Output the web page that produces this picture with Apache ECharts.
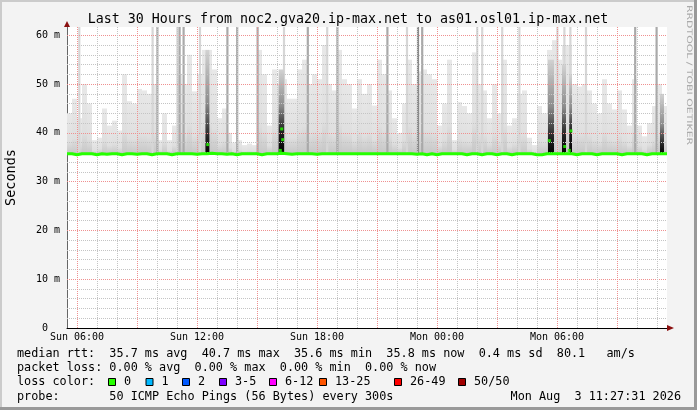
<!DOCTYPE html>
<html><head><meta charset="utf-8">
<script src="https://cdn.jsdelivr.net/npm/echarts@6/dist/echarts.min.js"></script>
<style>html,body{margin:0;padding:0;background:#f3f3f3}#c{width:697px;height:410px}</style>
</head><body><div id="c"></div>
<script>
// ---- data (hours since Sun 00:00, values in ms) ----
const startHour = 5.5;      // first 15-minute bucket starts Sun 05:30
const stepHours = 0.25;     // bucket length
const smokeTop = [
 44, 47, 43, 50, 46, 38.5, 39, 45, 41.5, 42.5,
 40.5, 52, 46.5, 46, 49, 48.7, 48, 50, 38.5, 44,
 38.5, 41.5, 52, 50, 56, 48.5, 52, 57, 57, 53,
 43, 45, 40, 38, 38.5, 37.5, 37.8, 37.5, 57, 52,
 41.5, 53, 50, 51, 47, 47, 53, 55, 50, 52,
 51, 58, 50, 48.7, 57, 51, 50, 45, 51, 48,
 50, 45.6, 55, 52, 48.7, 43, 40, 46, 55, 50,
 52.6, 53, 52, 51, 41.5, 46, 55, 38.5, 46.3, 45.5,
 44, 56.5, 50, 48.7, 43, 50, 44, 55, 41.5, 43,
 48, 48.7, 39, 37.5, 45.5, 44, 57, 59, 55, 58,
 58, 50, 49.5, 50, 48.7, 46, 44, 51, 46, 44.8,
 48.7, 44.8, 41.5, 51, 41.5, 39.3, 42, 45.5, 50, 45.5
];
const medianRtt = [
 35.7,35.5,35.7,35.7,35.7,35.5,35.7,35.6,35.7,35.7,
 35.5,35.7,35.7,35.6,35.7,35.7,35.5,35.7,35.7,35.7,
 35.5,35.7,35.7,35.7,35.7,35.6,35.7,35.7,35.8,35.7,
 35.7,35.6,35.7,35.5,35.7,35.7,35.7,35.7,35.5,35.7,
 35.7,35.7,35.8,35.7,35.6,35.7,35.7,35.7,35.7,35.6,
 35.7,35.7,35.7,35.7,35.7,35.7,35.7,35.7,35.7,35.7,
 35.7,35.7,35.7,35.7,35.7,35.7,35.7,35.7,35.7,35.6,
 35.7,35.5,35.7,35.5,35.7,35.7,35.7,35.7,35.7,35.5,
 35.7,35.7,35.5,35.7,35.7,35.5,35.7,35.7,35.5,35.7,
 35.7,35.7,35.7,35.5,35.5,35.7,35.7,35.7,35.7,35.7,
 35.7,35.5,35.7,35.7,35.7,35.5,35.7,35.7,35.7,35.7,
 35.5,35.7,35.7,35.7,35.7,35.5,35.7,35.7,35.7,35.7
];
// single 5-minute samples whose smoke runs off the top of the chart
const spikeHours = [6.115, 9.78, 10.02, 11.02, 11.13, 11.33, 12.15, 13.52, 14.01, 15.03, 16.35, 17.54, 18.51, 19.02,
                    21.52, 22.5, 23.05, 23.26, 26.01, 26.26, 27.26, 28.12, 30.02, 30.37, 30.67, 31.45, 33.91, 34.98];
const spikeShade = ['L','L','M','L','M','M','L','M','M','M','L','M','L','M',
                    'M','L','D','M','L','L','L','L','L','L','L','L','M','M'];
// dense (dark) smoke columns
const darkHours    = [12.52, 16.22, 29.7, 30.35, 30.68, 35.25];
const darkSpan     = [0.2, 0.28, 0.3, 0.2, 0.14, 0.2];
const darkBlackTop = [39, 40.5, 39, 39.5, 40.5, 37.5];
const darkGrayTop  = [57, 53, 55, 54, 52, 48];
// median samples lifted above the base line
const medianDotHours  = [12.535, 16.165, 16.235, 16.285, 29.615, 30.385, 30.615, 30.7];
const medianDotValues = [37.6, 36.4, 40.8, 38.6, 38.4, 37.2, 36.4, 40.4];
// axes
const xLabelHours = [6, 12, 18, 24, 30];
const xLabelText  = ['Sun 06:00', 'Sun 12:00', 'Sun 18:00', 'Mon 00:00', 'Mon 06:00'];
const xMajorHours = [6, 9, 12, 15, 18, 21, 24, 27, 30, 33];
const xMinorHours = [7, 8, 10, 11, 13, 14, 16, 17, 19, 20, 22, 23, 25, 26, 28, 29, 31, 32, 34, 35];
const yLabelValues = [0, 10, 20, 30, 40, 50, 60];
const yMajorValues = [10, 20, 30, 40, 50, 60];
const yMinorValues = [2, 4, 6, 8, 12, 14, 16, 18, 22, 24, 26, 28, 32, 34, 36, 38, 42, 44, 46, 48, 52, 54, 56, 58];
const lossLabels = ['0', '1', '2', '3-5', '6-12', '13-25', '26-49', '50/50'];
const lossColors = ['#26ff00', '#00b8ff', '#0059ff', '#7e00ff', '#ff00ff', '#ff5500', '#ff0000', '#a10000'];
const statLines = [
 'median rtt:  35.7 ms avg  40.7 ms max  35.6 ms min  35.8 ms now  0.4 ms sd  80.1   am/s',
 'packet loss: 0.00 % avg  0.00 % max  0.00 % min  0.00 % now',
 'loss color:',
 'probe:       50 ICMP Echo Pings (56 Bytes) every 300s'
];
const stampText = 'Mon Aug  3 11:27:31 2026';
const titleText = 'Last 30 Hours from noc2.gva20.ip-max.net to as01.osl01.ip-max.net';

// ---- build ----
const X_MIN = 5.5, X_MAX = 35.5, Y_MAX = 61.7;
const mono = '"DejaVu Sans Mono", monospace';
const smokeData = smokeTop.map((v, i) => [startHour + i * stepHours, startHour + (i + 1) * stepHours, medianRtt[i], v]);
const spikeW = 0.11;
const spikeData = spikeHours.map(h => [h - spikeW / 2, h + spikeW / 2, 35.6, Y_MAX]);
const darkData = darkHours.map((h, i) => [h - darkSpan[i] / 2, h + darkSpan[i] / 2, 35.6, darkGrayTop[i], darkBlackTop[i]]);
const medLine = medianRtt.map((v, i) => [startHour + i * stepHours, v]);
medLine.push([startHour + medianRtt.length * stepHours, medianRtt[medianRtt.length - 1]]);
const dots = medianDotHours.map((h, i) => [h, medianDotValues[i]]);
const shadeColor = {L: '#d6d6d6', M: '#a9a9a9', D: '#8a8a8a'};

function rectOf(api, yTopIdx) {
  const tl = api.coord([api.value(0), api.value(yTopIdx)]);
  const br = api.coord([api.value(1), api.value(2)]);
  return {x: tl[0], y: tl[1], width: br[0] - tl[0], height: br[1] - tl[1]};
}

const chart = echarts.init(document.getElementById('c'), null, {renderer: 'canvas'});
const gridAxisBase = {type: 'value', axisLine: {show: false}, axisLabel: {show: false}, z: 3};
const minorLine = {show: true, lineStyle: {color: '#c4c4c4', width: 1, type: [1, 1]}};
const majorLine = {show: true, lineStyle: {color: '#ef9090', width: 1, type: [1, 1]}};

const graphic = [
  {type: 'rect', shape: {x: 0, y: 0, width: 697, height: 2}, style: {fill: '#cbcbcb'}, silent: true},
  {type: 'rect', shape: {x: 0, y: 0, width: 2, height: 410}, style: {fill: '#cbcbcb'}, silent: true},
  {type: 'rect', shape: {x: 0, y: 407, width: 697, height: 3}, style: {fill: '#999999'}, silent: true},
  {type: 'rect', shape: {x: 694, y: 0, width: 3, height: 410}, style: {fill: '#999999'}, silent: true},
  {type: 'polygon', shape: {points: [[64, 27], [70, 27], [67, 21]]}, style: {fill: '#8b1010'}, z: 10},
  {type: 'polygon', shape: {points: [[667, 325], [667, 331], [674, 328]]}, style: {fill: '#8b1010'}, z: 10},
  {type: 'text', x: 689, y: 5, rotation: -Math.PI / 2, scaleX: 1.45,
   style: {text: 'RRDTOOL / TOBI OETIKER', font: '7.5px "DejaVu Sans"', fill: '#aaaaaa', align: 'left', verticalAlign: 'middle'}},
  {type: 'text', x: 348, y: 19.5,
   style: {text: titleText, font: '13.3px ' + mono, fill: '#000', align: 'center', verticalAlign: 'middle'}}
];
const lineY = [354, 368, 382, 397];
statLines.forEach((t, i) => graphic.push({type: 'text', x: 17, y: lineY[i],
  style: {text: t, font: '11.8px ' + mono, fill: '#000', verticalAlign: 'middle'}}));
graphic.push({type: 'text', x: 681, y: lineY[3], style: {text: stampText, font: '11.8px ' + mono, fill: '#000', align: 'right', verticalAlign: 'middle'}});
const boxX = [108, 145.5, 182, 219, 269, 319, 394, 458];
lossLabels.forEach((lab, i) => {
  graphic.push({type: 'rect', shape: {x: boxX[i] + 0.5, y: 378.5, width: 7, height: 7}, style: {fill: lossColors[i], stroke: '#000', lineWidth: 1}});
  graphic.push({type: 'text', x: boxX[i] + 16, y: lineY[2], style: {text: lab, font: '11.8px ' + mono, fill: '#000', verticalAlign: 'middle'}});
});

chart.setOption({
  backgroundColor: '#f3f3f3',
  animation: false,
  grid: {left: 67, right: 30, top: 27, bottom: 82, show: true, backgroundColor: '#ffffff', borderWidth: 0,
         containLabel: false, outerBoundsMode: 'none'},
  xAxis: [
    {type: 'value', min: X_MIN, max: X_MAX,
     axisLine: {show: true, lineStyle: {color: '#000', width: 1}},
     axisTick: {show: false, customValues: xLabelHours},
     axisLabel: {customValues: xLabelHours, margin: 4, color: '#000', fontFamily: mono, fontSize: 10,
                 formatter: v => xLabelText[xLabelHours.indexOf(v)] || ''},
     splitLine: {show: false}},
    Object.assign({}, gridAxisBase, {min: X_MIN, max: X_MAX, axisTick: {show: false, customValues: xMinorHours}, splitLine: minorLine}),
    Object.assign({}, gridAxisBase, {min: X_MIN, max: X_MAX, axisTick: {show: false, customValues: xMajorHours}, splitLine: majorLine})
  ],
  yAxis: [
    {type: 'value', min: 0, max: Y_MAX,
     name: 'Seconds', nameLocation: 'middle', nameGap: 49,
     nameTextStyle: {fontFamily: mono, fontSize: 13.5, color: '#000'},
     axisLine: {show: true, lineStyle: {color: '#666', width: 1}},
     axisTick: {show: false, customValues: yLabelValues},
     axisLabel: {customValues: yLabelValues, margin: 7, color: '#000', fontFamily: mono, fontSize: 10,
                 formatter: v => v === 0 ? '0  ' : v + ' m'},
     splitLine: {show: false}},
    Object.assign({}, gridAxisBase, {min: 0, max: Y_MAX, axisTick: {show: false, customValues: yMinorValues}, splitLine: minorLine}),
    Object.assign({}, gridAxisBase, {min: 0, max: Y_MAX, axisTick: {show: false, customValues: yMajorValues}, splitLine: majorLine})
  ],
  series: [
    {type: 'custom', name: 'smoke', z: 1, clip: true, data: smokeData, encode: {x: [0, 1], y: [2, 3]},
     renderItem: (params, api) => ({type: 'rect', shape: rectOf(api, 3),
       style: {fill: new echarts.graphic.LinearGradient(0, 0, 0, 1, [
         {offset: 0, color: '#e8e8e8'}, {offset: 0.7, color: '#dfdfdf'}, {offset: 1, color: '#c6c6c6'}])}})},
    {type: 'custom', name: 'spikes', z: 1, clip: true, data: spikeData, encode: {x: [0, 1], y: [2, 3]},
     renderItem: (params, api) => ({type: 'rect', shape: rectOf(api, 3),
       style: {fill: shadeColor[spikeShade[params.dataIndex]]}})},
    {type: 'custom', name: 'dense', z: 1, clip: true, data: darkData, encode: {x: [0, 1], y: [2, 3]},
     renderItem: (params, api) => {
       const top = api.value(3), bottom = api.value(2), black = api.value(4);
       const f = Math.min(0.95, Math.max(0.1, (top - black) / (top - bottom)));
       return {type: 'rect', shape: rectOf(api, 3),
         style: {fill: new echarts.graphic.LinearGradient(0, 0, 0, 1, [
           {offset: 0, color: '#d2d2d2'}, {offset: f * 0.6, color: '#8c8c8c'},
           {offset: f, color: '#222222'}, {offset: 1, color: '#000000'}])}};
     }},
    {type: 'line', name: 'median', z: 4, data: medLine, step: 'end', symbol: 'none',
     lineStyle: {color: '#26ff00', width: 3}},
    {type: 'scatter', name: 'median lifted', z: 5, data: dots, symbol: 'rect', symbolSize: 3,
     itemStyle: {color: '#26ff00'}}
  ],
  graphic: graphic
});
</script>
</body></html>
